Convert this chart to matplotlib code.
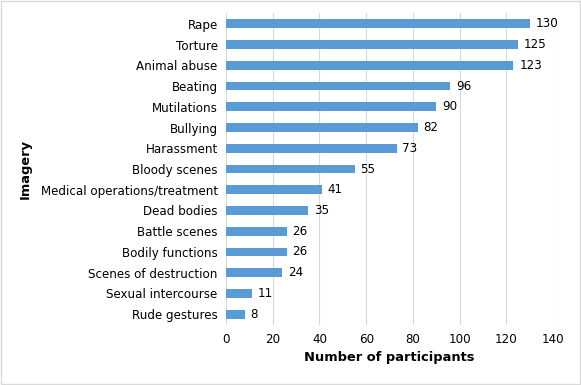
import matplotlib
matplotlib.use("Agg")
import matplotlib.pyplot as plt
from matplotlib.patches import Rectangle

categories = ["Rape", "Torture", "Animal abuse", "Beating", "Mutilations",
              "Bullying", "Harassment", "Bloody scenes",
              "Medical operations/treatment", "Dead bodies", "Battle scenes",
              "Bodily functions", "Scenes of destruction",
              "Sexual intercourse", "Rude gestures"]
counts = [130, 125, 123, 96, 90, 82, 73, 55, 41, 35, 26, 26, 24, 11, 8]
xticks = [0, 20, 40, 60, 80, 100, 120, 140]

plt.rcParams["font.family"] = ["DejaVu Sans"]
fig = plt.figure(figsize=(5.81, 3.85), dpi=100)
ax = fig.add_axes([0.389, 0.157, 0.563, 0.808])

ypos = list(range(len(categories)))[::-1]
ax.barh(ypos, counts, height=0.42, color="#5b9bd5", zorder=2)
for y, v in zip(ypos, counts):
    ax.text(v + 2.5, y, str(v), va="center", ha="left", fontsize=8.6, color="#000000")

ax.set_yticks(ypos)
ax.set_yticklabels(categories, fontsize=8.6)
ax.set_xticks(xticks)
ax.set_xticklabels([str(t) for t in xticks], fontsize=8.6)
ax.set_xlim(0, 140)
ax.set_ylim(-0.5, len(categories) - 0.5)
ax.grid(axis="x", color="#d9d9d9", linewidth=0.8, zorder=0)
for s in ax.spines.values():
    s.set_visible(False)
ax.tick_params(length=0, pad=6)
ax.set_xlabel("Number of participants", fontsize=9.4, fontweight="bold", labelpad=4)
ax.set_ylabel("Imagery", fontsize=9.4, fontweight="bold", labelpad=6)

fig.patches.append(Rectangle((0.002, 0.003), 0.996, 0.994, transform=fig.transFigure,
                             fill=False, edgecolor="#d9d9d9", linewidth=1))
fig.savefig("out.png", dpi=100)
